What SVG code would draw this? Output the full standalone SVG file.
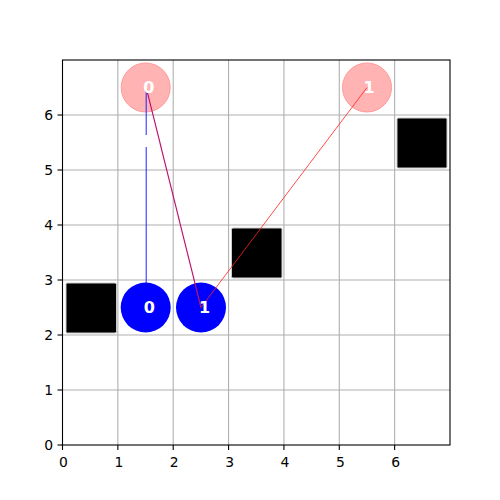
<svg xmlns="http://www.w3.org/2000/svg" width="500" height="500" viewBox="0 0 500 500">
<style>
.grid{stroke:#b0b0b0;stroke-width:1.1}
.tick{stroke:#000;stroke-width:1.1}
.lbl{font-family:"DejaVu Sans",sans-serif;font-size:13.9px;fill:#000}
.obs{fill:#000;stroke:#cccccc;stroke-width:1}
.agent{fill:#0000ff}
.goal{fill:#ffb3b3;stroke:#ff9a9a;stroke-width:1}
.nl{font-family:"DejaVu Sans",sans-serif;font-size:16px;font-weight:bold;fill:#fff}
</style>
<rect width="500" height="500" fill="#fff"/>
<g id="grid">
<line class="grid" x1="117.86" y1="60" x2="117.86" y2="445"/>
<line class="grid" x1="173.21" y1="60" x2="173.21" y2="445"/>
<line class="grid" x1="228.57" y1="60" x2="228.57" y2="445"/>
<line class="grid" x1="283.93" y1="60" x2="283.93" y2="445"/>
<line class="grid" x1="339.29" y1="60" x2="339.29" y2="445"/>
<line class="grid" x1="394.64" y1="60" x2="394.64" y2="445"/>
<line class="grid" x1="62.5" y1="390" x2="450" y2="390"/>
<line class="grid" x1="62.5" y1="335" x2="450" y2="335"/>
<line class="grid" x1="62.5" y1="280" x2="450" y2="280"/>
<line class="grid" x1="62.5" y1="225" x2="450" y2="225"/>
<line class="grid" x1="62.5" y1="170" x2="450" y2="170"/>
<line class="grid" x1="62.5" y1="115" x2="450" y2="115"/>
</g>
<g id="obstacles">
<rect id="obs1" class="obs" x="66" y="283" width="50.5" height="50" rx="1.5"/>
<rect id="obs2" class="obs" x="231.5" y="228" width="50.5" height="50" rx="1.5"/>
<rect id="obs3" class="obs" x="397" y="118" width="50" height="50" rx="1.5"/>
</g>
<g id="goal0"><circle class="goal" cx="145.7" cy="87.5" r="24.5"/></g>
<g id="goal1"><circle class="goal" cx="367" cy="87.5" r="24.5"/></g>
<g id="connectors" fill="none">
<path d="M146.2 88 V135 M146.2 147 V300" stroke="#2222ff" stroke-width="1"/>
</g>
<g id="agent0"><circle class="agent" cx="145.7" cy="307.5" r="25"/><text class="nl" x="143.8" y="313.3">0</text></g>
<g id="agent1"><circle class="agent" cx="201" cy="307.5" r="25"/></g>
<g id="connectors2" fill="none">
<line x1="146.3" y1="88" x2="201" y2="307.5" stroke="#c0106a" stroke-width="1.1"/>
<line x1="367" y1="87.5" x2="201" y2="307.5" stroke="#ff2020" stroke-width="0.8"/>
</g>
<text class="nl" x="143.2" y="92.7">0</text>
<text class="nl" x="363.5" y="92.7">1</text>
<text class="nl" x="199" y="313.3">1</text>
<g id="axes">
<rect x="62.5" y="60" width="387.5" height="385" fill="none" stroke="#000" stroke-width="1.1"/>
<g class="tick">
<line x1="62.5" y1="445" x2="62.5" y2="450"/>
<line x1="117.86" y1="445" x2="117.86" y2="450"/>
<line x1="173.21" y1="445" x2="173.21" y2="450"/>
<line x1="228.57" y1="445" x2="228.57" y2="450"/>
<line x1="283.93" y1="445" x2="283.93" y2="450"/>
<line x1="339.29" y1="445" x2="339.29" y2="450"/>
<line x1="394.64" y1="445" x2="394.64" y2="450"/>
<line x1="57.5" y1="445" x2="62.5" y2="445"/>
<line x1="57.5" y1="390" x2="62.5" y2="390"/>
<line x1="57.5" y1="335" x2="62.5" y2="335"/>
<line x1="57.5" y1="280" x2="62.5" y2="280"/>
<line x1="57.5" y1="225" x2="62.5" y2="225"/>
<line x1="57.5" y1="170" x2="62.5" y2="170"/>
<line x1="57.5" y1="115" x2="62.5" y2="115"/>
</g>
<g class="lbl" text-anchor="middle">
<text x="63.5" y="466.5">0</text>
<text x="118.9" y="466.5">1</text>
<text x="174.2" y="466.5">2</text>
<text x="229.6" y="466.5">3</text>
<text x="284.9" y="466.5">4</text>
<text x="340.3" y="466.5">5</text>
<text x="395.6" y="466.5">6</text>
</g>
<g class="lbl" text-anchor="end">
<text x="53" y="450">0</text>
<text x="53" y="395">1</text>
<text x="53" y="340">2</text>
<text x="53" y="285">3</text>
<text x="53" y="230">4</text>
<text x="53" y="175">5</text>
<text x="53" y="120">6</text>
</g>
</g>
</svg>
